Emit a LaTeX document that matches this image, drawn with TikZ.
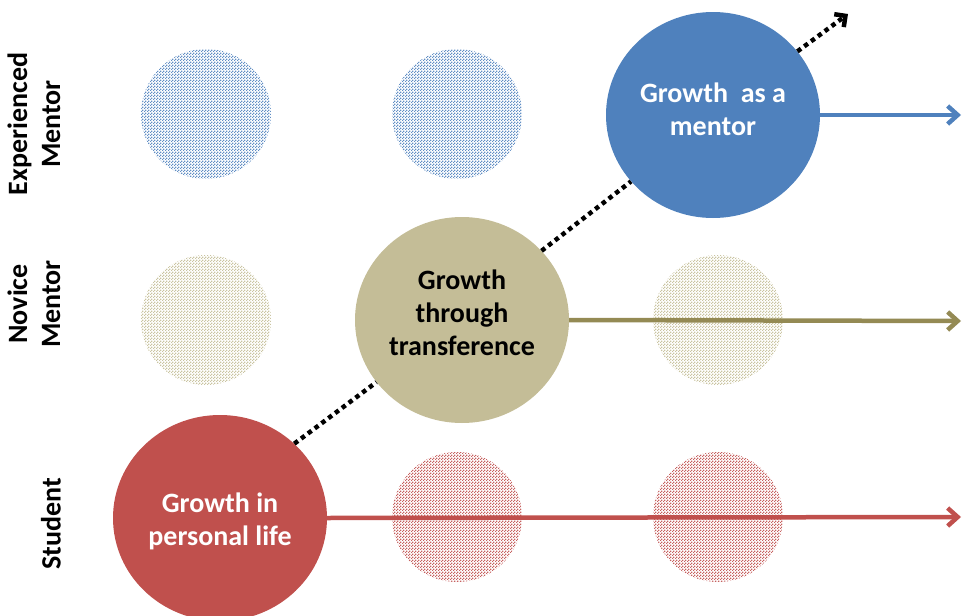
\documentclass[tikz,border=0pt]{standalone}
\usepackage{fontspec}
\setmainfont{Carlito}
\usetikzlibrary{arrows.meta,patterns,shapes.geometric}
\definecolor{redc}{HTML}{C0504D}
\definecolor{khakic}{HTML}{C4BD97}
\definecolor{khakid}{HTML}{948A54}
\definecolor{bluec}{HTML}{4F81BD}
\pgfdeclarepatternformonly{checks}{\pgfqpoint{0pt}{0pt}}{\pgfqpoint{3pt}{3pt}}{\pgfqpoint{3pt}{3pt}}{%
  \pgfpathrectangle{\pgfqpoint{0pt}{0pt}}{\pgfqpoint{1.5pt}{1.5pt}}%
  \pgfpathrectangle{\pgfqpoint{1.5pt}{1.5pt}}{\pgfqpoint{1.5pt}{1.5pt}}%
  \pgfusepath{fill}}
\tikzset{
  growth/.style={ellipse, minimum width=214pt, minimum height=206pt, inner sep=0pt},
  gtext/.style={align=center, inner sep=0pt, font=\fontsize{28}{33}\selectfont\bfseries},
  faded/.style={circle, minimum size=130pt, inner sep=0pt, pattern=checks},
  track/.style={line width=4.5pt, -{Straight Barb[length=10pt,width=18pt]}},
  dotline/.style={line width=4.5pt, dash pattern=on 4.5pt off 4pt},
  rowlabel/.style={rotate=90, align=center, font=\fontsize{28}{33}\selectfont\bfseries}
}

\begin{document}
\begin{tikzpicture}[x=1pt,y=-1pt]
\useasboundingbox (0,0) rectangle (962,616);
% faded circles
\foreach \x/\y/\c [count=\i] in {206/114/bluec,457/114/bluec,206/320/khakic,718/320/khakic,457/517/redc,718/517/redc}
  \node[faded, pattern color=\c!90] (f\i) at (\x,\y) {};
% growth circles
\node[growth, fill=redc, label={[gtext, text=white, yshift=-3pt]center:{Growth in\\personal life}}] (personal) at (220,518) {};
\node[growth, fill=khakic, label={[gtext, yshift=7pt]center:{Growth\\through\\transference}}] (transfer) at (462,320) {};
\node[growth, fill=bluec, label={[gtext, text=white, yshift=6pt]center:{Growth\ \ as a\\mentor}}] (mentor) at (713,115) {};
\coordinate (tip) at (848,14);
\coordinate (endr) at (961,517);
\coordinate (endk) at (961,321);
\coordinate (endb) at (961,115);
\draw[dotline] (personal.45) -- (transfer.216);
\draw[dotline] (transfer.41) -- (mentor.219);
\draw[dotline, -{Straight Barb[length=8pt,width=16pt]}] (mentor.37) -- (tip);
\draw[track, redc] (personal.east) -- (endr);
\draw[track, khakid] (transfer.east) -- (endk);
\draw[track, bluec] (mentor.east) -- (endb);
% row labels
\node[rowlabel] (lexp) at (34,124) {Experienced\\Mentor};
\node[rowlabel] (lnov) at (34,304) {Novice\\Mentor};
\node[rowlabel] (lstu) at (51,524) {Student};
\end{tikzpicture}
\end{document}
